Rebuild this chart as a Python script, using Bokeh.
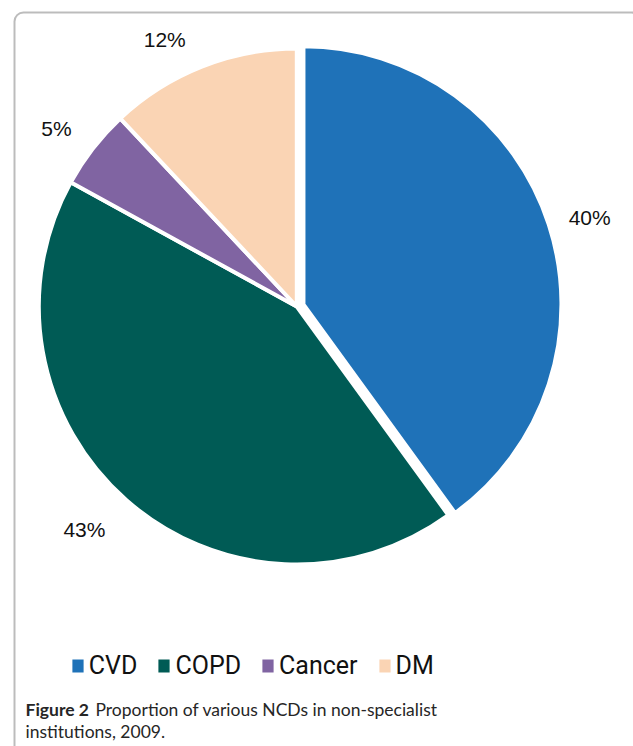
import numpy as np
from bokeh.plotting import figure
from bokeh.models import Range1d, ColumnDataSource, Legend, LegendItem, BoxAnnotation
from bokeh.core.properties import value
from bokeh.embed import file_html
from bokeh.resources import INLINE

# ---- data ----
categories = ["CVD", "COPD", "Cancer", "DM"]
shares = [40, 43, 5, 12]
labels = ["40%", "43%", "5%", "12%"]
colors = ["#1F72B8", "#005B55", "#8064A2", "#FAD4B4"]

# ---- layout / style ----
explode_px = [7, 0, 0, 0]
label_angle_nudge = [-1.2, -2.2, 1.3, 4.7]   # degrees
label_radius = [299, 308, 299, 298]           # px from slice centre
W, H = 633, 746
CX, CY, R = 296.3, 440.0, 258.0

p = figure(width=W, height=H, x_range=Range1d(0, W), y_range=Range1d(0, H),
           output_backend="svg", toolbar_location=None, min_border=0,
           x_axis_location=None, y_axis_location=None,
           outline_line_color=None, background_fill_color="white",
           border_fill_color="white")
p.grid.visible = False

frac = np.array(shares, dtype=float) / float(sum(shares))
cum = np.cumsum(frac)
a_lo = np.deg2rad(90 - 360 * cum)
a_hi = np.deg2rad(90 - 360 * (cum - frac))
mid = (a_lo + a_hi) / 2
ex = np.array(explode_px, dtype=float)
cx = CX + ex * np.cos(mid)
cy = CY + ex * np.sin(mid)

src = ColumnDataSource(dict(x=cx, y=cy, start=a_lo, end=a_hi, color=colors, cat=categories))
wr = p.wedge(x="x", y="y", radius=R, start_angle="start", end_angle="end",
             fill_color="color", line_color="white", line_width=4, source=src)

la = mid + np.deg2rad(label_angle_nudge)
lr = np.array(label_radius, dtype=float)
lsrc = ColumnDataSource(dict(x=cx + lr * np.cos(la), y=cy + lr * np.sin(la), t=labels))
p.text(x="x", y="y", text="t", source=lsrc, text_align="center", text_baseline="middle",
       text_font=value("Liberation Sans"), text_font_size="21px", text_color="#111111")

legend = Legend(items=[LegendItem(label=c, renderers=[wr], index=i) for i, c in enumerate(categories)],
                orientation="horizontal", location=(67.8, 66.5),
                label_text_font="Roboto", label_text_font_size="25px", label_text_color="#111111",
                glyph_width=19, glyph_height=21, label_standoff=2, spacing=17,
                padding=0, margin=0, border_line_alpha=0, background_fill_alpha=0)
p.add_layout(legend)

# caption
cap_font = value("Lato")
p.text(x=[25], y=[37], text=["Figure 2"], text_align="left", text_baseline="alphabetic",
       text_font=cap_font, text_font_style="bold", text_font_size="17.5px", text_color="#262626")
p.text(x=[95], y=[37], text=["Proportion of various NCDs in non-specialist"], text_align="left",
       text_baseline="alphabetic", text_font=cap_font, text_font_size="17.5px", text_color="#262626")
p.text(x=[25], y=[15], text=["institutions, 2009."], text_align="left", text_baseline="alphabetic",
       text_font=cap_font, text_font_size="17.5px", text_color="#262626")

box = BoxAnnotation(left=14, right=640, top=734, bottom=-40, border_radius=9,
                    fill_alpha=0, line_color="#222222", line_width=2)
p.add_layout(box)

open("out.html", "w").write(file_html(p, INLINE))
